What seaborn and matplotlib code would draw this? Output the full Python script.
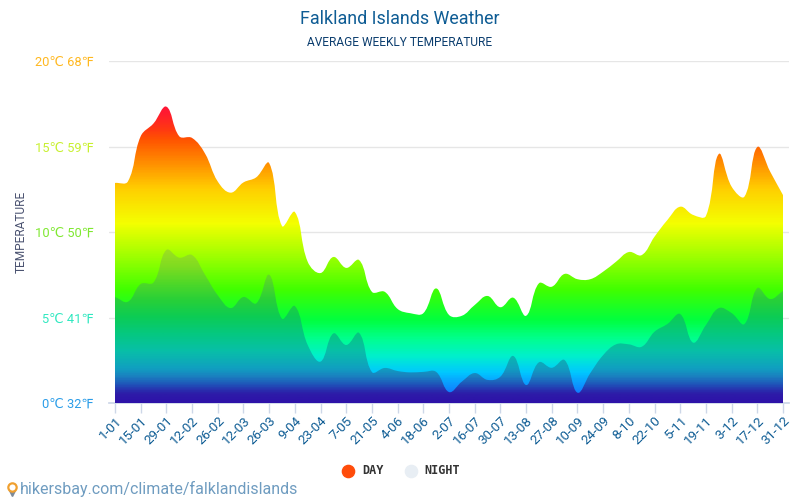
import numpy as np
import pandas as pd
import matplotlib
matplotlib.use("Agg")
import matplotlib.pyplot as plt
import seaborn as sns
from matplotlib.colors import LinearSegmentedColormap
from matplotlib.lines import Line2D
from matplotlib.patches import PathPatch
from matplotlib.path import Path

# weekly values, degrees C
weeks = [
    "1-01", "8-01", "15-01", "22-01", "29-01", "5-02", "12-02", "19-02", "26-02", "5-03",
    "12-03", "19-03", "26-03", "2-04", "9-04", "16-04", "23-04", "30-04", "7-05", "14-05",
    "21-05", "28-05", "4-06", "11-06", "18-06", "25-06", "2-07", "9-07", "16-07", "23-07",
    "30-07", "6-08", "13-08", "20-08", "27-08", "3-09", "10-09", "17-09", "24-09", "1-10",
    "8-10", "15-10", "22-10", "29-10", "5-11", "12-11", "19-11", "26-11", "3-12", "10-12",
    "17-12", "24-12", "31-12",
]
day = [
    12.87, 12.95, 15.6, 16.35, 17.33, 15.6, 15.5, 14.6, 12.95, 12.3,
    12.9, 13.2, 14.03, 10.35, 11.17, 8.26, 7.6, 8.54, 7.9, 8.36,
    6.5, 6.5, 5.5, 5.25, 5.25, 6.7, 5.15, 5.1, 5.73, 6.26,
    5.6, 6.16, 5.1, 7.0, 6.8, 7.55, 7.24, 7.24, 7.68, 8.26,
    8.83, 8.65, 9.73, 10.7, 11.48, 11.0, 10.94, 14.56, 12.65, 12.07,
    14.97, 13.53, 12.16,
]
night = [
    6.2, 5.92, 6.96, 7.05, 8.95, 8.5, 8.65, 7.5, 6.3, 5.55,
    6.2, 5.83, 7.5, 4.93, 5.67, 3.39, 2.42, 4.07, 3.39, 4.1,
    1.81, 2.05, 1.87, 1.79, 1.82, 1.82, 0.64, 1.25, 1.75, 1.35,
    1.54, 2.75, 1.05, 2.38, 2.06, 2.51, 0.6, 1.75, 2.8, 3.43,
    3.43, 3.29, 4.17, 4.62, 5.2, 3.53, 4.56, 5.55, 5.26, 4.62,
    6.72, 6.08, 6.55,
]
y_ticks = [0, 5, 10, 15, 20]
y_labels = ["0℃ 32℉", "5℃ 41℉", "10℃ 50℉", "15℃ 59℉", "20℃ 68℉"]
y_colors = ["#2b9de8", "#30e8c0", "#7fe830", "#c8f030", "#ffb820"]

sns.set_theme(style="white")
plt.rcParams["font.family"] = ["Roboto", "DejaVu Sans"]

df = pd.DataFrame({"week": range(len(weeks)), "day": day, "night": night})

fig = plt.figure(figsize=(8, 5), dpi=100)
ax = fig.add_axes([109 / 800, 1 - 403 / 500, (789 - 109) / 800, (403 - 61) / 500])

# the lines only set up the axes, the fills are clipped gradients below
sns.lineplot(data=df, x="week", y="day", ax=ax, linewidth=0)
sns.lineplot(data=df, x="week", y="night", ax=ax, linewidth=0)

px_x = 12.85


def curve(values):
    # bezier through the points, tension like the js chart
    n = len(values)
    pts = np.column_stack([np.arange(n), values])
    scale = np.array([px_x, 17.1])
    verts = [(0, 0), tuple(pts[0])]
    codes = [Path.MOVETO, Path.LINETO]
    for i in range(n - 1):
        a = pts[max(i - 1, 0)]
        b = pts[i]
        c = pts[i + 1]
        d = pts[min(i + 2, n - 1)]
        d_ab = np.linalg.norm((b - a) * scale)
        d_bc = np.linalg.norm((c - b) * scale)
        d_cd = np.linalg.norm((d - c) * scale)
        c1 = b + 0.4 * d_bc / (d_ab + d_bc) * (c - a)
        c2 = c - 0.4 * d_bc / (d_bc + d_cd) * (d - b)
        verts += [tuple(c1), tuple(c2), tuple(c)]
        codes += [Path.CURVE4] * 3
    verts += [(n - 1, 0), (0, 0)]
    codes += [Path.LINETO, Path.CLOSEPOLY]
    return Path(verts, codes)


day_cmap = LinearSegmentedColormap.from_list("day", [
    (0.0, "#2a0fb0"), (0.03, "#1080ff"), (0.0585, "#0aa0ff"), (0.0875, "#00c8ff"),
    (0.135, "#00f0cc"), (0.185, "#00ff90"), (0.24, "#00ff40"), (0.33, "#40ff00"),
    (0.43, "#a0ff00"), (0.526, "#f4ff00"), (0.625, "#ffd000"), (0.67, "#ffaa00"),
    (0.77, "#ff5500"), (0.8, "#ff3a10"), (0.85, "#ff1a30"), (1.0, "#ff0066"),
])
night_cmap = LinearSegmentedColormap.from_list("night", [
    (0.0, "#2d12a8"), (0.025, "#2d1ca8"), (0.05, "#2050b8"), (0.075, "#1a80c0"),
    (0.1, "#10a0c0"), (0.15, "#08bfa8"), (0.2, "#05c880"), (0.25, "#0ccc55"),
    (0.3, "#28d038"), (0.35, "#50d828"), (0.4, "#80dc20"), (0.45, "#a0e020"),
    (1.0, "#c0e020"),
])
grad = np.linspace(0, 1, 400).reshape(-1, 1)

for values, cmap, z in [(day, day_cmap, 2), (night, night_cmap, 3)]:
    patch = PathPatch(curve(values), transform=ax.transData, facecolor="none", edgecolor="none")
    ax.add_patch(patch)
    im = ax.imshow(grad, cmap=cmap, origin="lower", extent=[0, 52, 0, 20], aspect="auto", zorder=z)
    im.set_clip_path(patch)

ax.set_xlim(-6 / px_x, len(weeks) - 1 + 6 / px_x)
ax.set_ylim(0, 20)

ax.set_yticks(y_ticks)
ax.set_yticklabels(y_labels, fontsize=9.3)
for lab, col in zip(ax.get_yticklabels(), y_colors):
    lab.set_color(col)
ax.set_xticks(range(0, len(weeks), 2))
ax.set_xticklabels(weeks[::2], rotation=45, ha="right", rotation_mode="anchor",
                   fontsize=9.6, color="#0e5c94")
ax.tick_params(axis="x", length=7.2, width=1, color="#cdd7e8", pad=1, bottom=True)
ax.tick_params(axis="y", length=0, pad=10.8)
ax.grid(axis="y", color="#e6e6e6", linewidth=1)
ax.set_axisbelow(True)
for name in ["top", "left", "right"]:
    ax.spines[name].set_visible(False)
ax.spines["bottom"].set_color("#cdd7e8")
ax.set_xlabel("")
ax.set_ylabel("")

fig.text(0.5, 1 - 19 / 500, "Falkland Islands Weather", ha="center", va="center",
         fontsize=12.9, color="#0e5c94")
fig.text(0.5, 1 - 42 / 500, "AVERAGE WEEKLY TEMPERATURE", ha="center", va="center",
         fontsize=8.6, color="#0b3d6e")
fig.text(21 / 800, 1 - 232 / 500, "TEMPERATURE", rotation=90, ha="center", va="center",
         fontsize=8.6, color="#4a5270")
fig.text(20 / 800, 1 - 489 / 500, "hikersbay.com/climate/falklandislands", ha="left", va="center",
         fontsize=11.5, color="#6f9cc0")

# legend placed by hand, same spots as the original
legend_font = {"family": "DejaVu Sans Mono", "weight": "bold", "size": 8.5, "color": "#333333"}
for x_dot, x_txt, name, col in [(348, 362, "DAY", "#ff4c0a"), (411, 424, "NIGHT", "#e8eef4")]:
    fig.add_artist(Line2D([x_dot / 800], [1 - 471 / 500], marker="o", markersize=8.8, color=col,
                          linestyle="", transform=fig.transFigure))
    fig.text(x_txt / 800, 1 - 471 / 500, name, ha="left", va="center", **legend_font)

# little map pin in front of the url
fig.add_artist(Line2D([12 / 800], [1 - 492.5 / 500], marker="v", markersize=5, color="#7d8a99",
                      linestyle="", transform=fig.transFigure))
fig.add_artist(Line2D([12 / 800], [1 - 487 / 500], marker="o", markersize=6, markerfacecolor="white",
                      markeredgecolor="#f0a030", markeredgewidth=1.6, linestyle="",
                      transform=fig.transFigure))

fig.savefig("out.png", dpi=100)
